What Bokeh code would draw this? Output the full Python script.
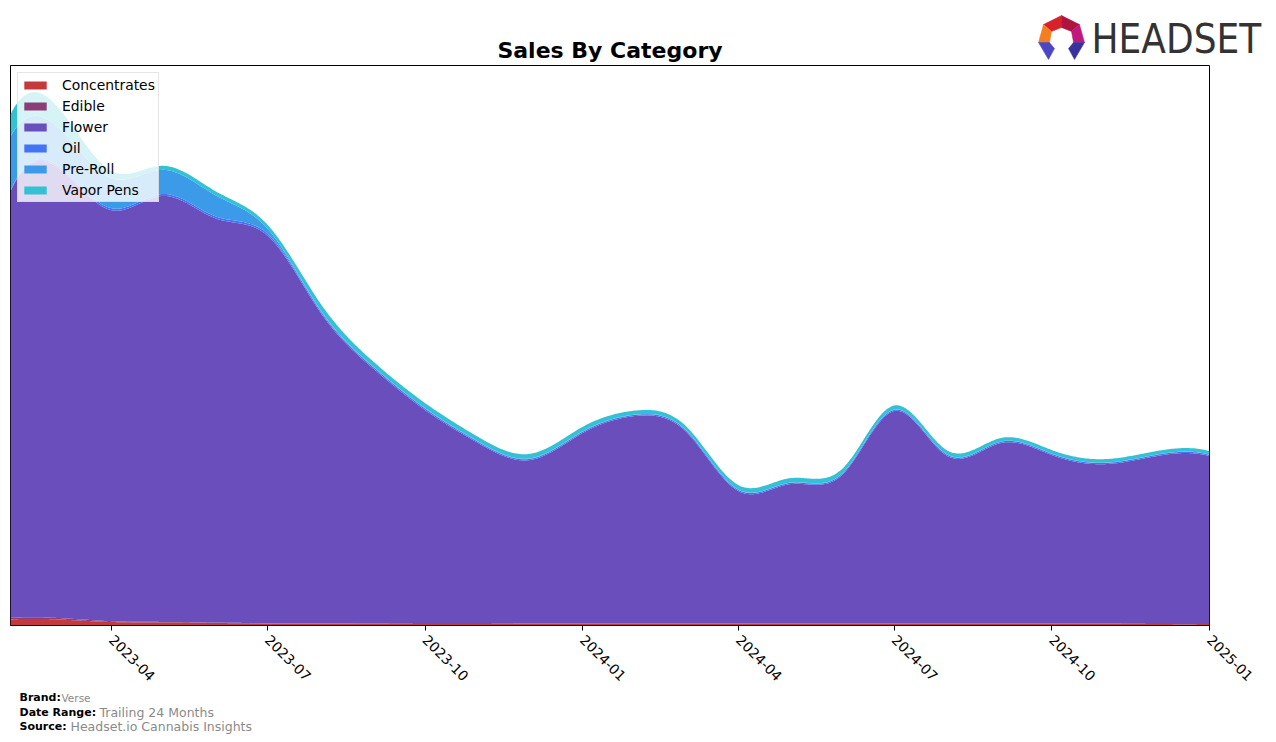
import numpy as np
from datetime import datetime, timezone
from bokeh.plotting import figure
from bokeh.layouts import column, row
from bokeh.models import Range1d, MonthsTicker, DatetimeTickFormatter
from bokeh.core.properties import value
from bokeh.embed import file_html
from bokeh.resources import INLINE

# ---------------- data (monthly sales, arbitrary units) ----------------
months = ["2023-02", "2023-03", "2023-04", "2023-05", "2023-06", "2023-07",
          "2023-08", "2023-09", "2023-10", "2023-11", "2023-12", "2024-01",
          "2024-02", "2024-03", "2024-04", "2024-05", "2024-06", "2024-07",
          "2024-08", "2024-09", "2024-10", "2024-11", "2024-12", "2025-01"]

concentrates = [6.0, 6.0, 3.5, 3.0, 2.5, 2.0, 2.0, 2.0, 1.5, 1.5, 2.0, 2.0,
                2.0, 2.0, 2.0, 2.0, 2.0, 2.0, 2.0, 2.0, 2.0, 2.0, 1.5, 1.5]
edible = [1.5, 1.5, 0.8, 0.6, 0.5, 0.3, 0.2, 0.0, 0.0, 0.0, 0.0, 0.0,
          0.0, 0.0, 0.0, 0.0, 0.0, 0.0, 0.0, 0.0, 0.0, 0.0, 0.0, 0.0]
flower = [425.5, 449.0, 410.0, 425.0, 403.0, 386.7, 310.0, 254.0, 213.5, 180.5, 163.0, 190.0,
          207.0, 192.0, 132.0, 139.0, 149.0, 212.0, 167.0, 180.0, 168.0, 159.0, 167.5, 167.5]
oil = [1.0, 2.0, 2.0, 2.0, 2.0, 2.0, 1.5, 1.5, 1.5, 1.2, 1.2, 1.2,
       1.2, 1.2, 1.2, 1.2, 1.2, 1.2, 1.2, 1.2, 1.2, 1.2, 1.2, 1.2]
pre_roll = [54.0, 38.0, 30.0, 24.0, 21.0, 5.0, 1.0, 0.5, 0.5, 0.5, 0.5, 0.5,
            0.3, 0.3, 0.3, 0.3, 0.3, 0.3, 0.3, 0.3, 0.3, 0.3, 0.3, 0.3]
vapor_pens = [22.0, 20.0, 7.0, 4.0, 4.0, 4.0, 6.5, 5.0, 5.0, 4.5, 4.5, 4.5,
              4.0, 4.0, 4.5, 4.5, 4.5, 4.0, 4.0, 3.5, 3.5, 3.5, 3.5, 3.5]

categories = ["Concentrates", "Edible", "Flower", "Oil", "Pre-Roll", "Vapor Pens"]
series = [concentrates, edible, flower, oil, pre_roll, vapor_pens]
colors = ["#c43a3a", "#8c3d77", "#6a4ebb", "#4373f7", "#3c9be8", "#33c1d3"]

title_text = "Sales By Category"
footer_labels = ["Brand:", "Date Range:", "Source:"]
footer_values = ["Verse", "Trailing 24 Months", "Headset.io Cannabis Insights"]


# ---------------- smoothing (cubic spline through monthly values) ----------------
def spline(x, y, xs):
    x = np.asarray(x, float)
    y = np.asarray(y, float)
    n = len(x)
    h = np.diff(x)
    A = np.zeros((n, n))
    r = np.zeros(n)
    for i in range(1, n - 1):
        A[i, i - 1] = h[i - 1]
        A[i, i] = 2 * (h[i - 1] + h[i])
        A[i, i + 1] = h[i]
        r[i] = 6 * ((y[i + 1] - y[i]) / h[i] - (y[i] - y[i - 1]) / h[i - 1])
    A[0, 0] = -h[1]; A[0, 1] = h[0] + h[1]; A[0, 2] = -h[0]
    A[n - 1, n - 3] = -h[n - 2]; A[n - 1, n - 2] = h[n - 3] + h[n - 2]; A[n - 1, n - 1] = -h[n - 3]
    M = np.linalg.solve(A, r)
    idx = np.clip(np.searchsorted(x, xs) - 1, 0, n - 2)
    hi = h[idx]
    a = x[idx + 1] - xs
    t = xs - x[idx]
    return (M[idx] * a ** 3 / (6 * hi) + M[idx + 1] * t ** 3 / (6 * hi)
            + (y[idx] / hi - M[idx] * hi / 6) * a + (y[idx + 1] / hi - M[idx + 1] * hi / 6) * t)


def to_ms(s):
    d = datetime.strptime(s, "%Y-%m").replace(tzinfo=timezone.utc)
    return d.timestamp() * 1000.0


xm = np.array([to_ms(m) for m in months])
xs = np.linspace(xm[0], xm[-1], 700)
smooth = [np.clip(spline(xm, s, xs), 0, None) for s in series]

W = 1276
HEAD_H = 64
FOOT_H = 54
MAIN_H = 742 - HEAD_H - FOOT_H  # 624

# ---------------- header (title + logo) ----------------
head = figure(width=W, height=HEAD_H, x_range=Range1d(0, W), y_range=Range1d(HEAD_H, 0),
              toolbar_location=None, output_backend="svg", min_border=0,
              x_axis_location=None, y_axis_location=None)
head.outline_line_color = None
head.grid.visible = False
head.text(x=[609.5], y=[50], text=[title_text], text_font=value("DejaVu Sans"),
          text_font_style="bold", text_font_size="22px", text_align="center",
          text_baseline="middle", text_color="black")
head.text(x=[1091], y=[38], text=["HEADSET"], text_font=value("'DejaVu Sans Condensed', Roboto"),
          text_font_size="40px", text_align="left", text_baseline="middle", text_color="#333333")

P = {"T": (1061, 15), "UL": (1043, 24), "UR": (1079, 24), "L": (1038, 42), "R": (1084, 42),
     "BL": (1048, 59), "BR": (1074, 59), "iT": (1061, 27), "iUL": (1051, 31), "iUR": (1071, 31),
     "iL": (1049, 42), "iR": (1073, 42), "iBL": (1054, 48), "iBR": (1068, 48)}
facets = [
    (["T", "UL", "iUL", "iT"], "#d7222c"),
    (["T", "UR", "iUR", "iT"], "#ad1540"),
    (["UL", "L", "iL", "iUL"], "#f47d20"),
    (["UR", "R", "iR", "iUR"], "#c0187c"),
    (["L", "BL", "iBL", "iL"], "#4b47c4"),
    (["R", "BR", "iBR", "iR"], "#3a319f"),
]
head.patches(xs=[[P[k][0] for k in ks] for ks, _ in facets],
             ys=[[P[k][1] for k in ks] for ks, _ in facets],
             fill_color=[c for _, c in facets], line_color=[c for _, c in facets], line_width=0.5)

# ---------------- main chart ----------------
p = figure(width=W, height=MAIN_H, x_axis_type="datetime", y_axis_location=None,
           output_backend="svg", toolbar_location=None, title=None,
           min_border_left=10, min_border_right=67, min_border_top=1, min_border_bottom=63)
p.x_range = Range1d(xm[0], xm[-1])

base = np.zeros_like(xs)
for name, sm, c in zip(categories, smooth, colors):
    top = base + sm
    p.varea(x=xs, y1=base, y2=top, fill_color=c, fill_alpha=1.0, legend_label=name)
    base = top
p.y_range = Range1d(0, base.max() * 1.05)

p.xgrid.visible = False
p.ygrid.visible = False
p.outline_line_color = "black"
p.outline_line_width = 1
p.outline_line_alpha = 1

ax = p.xaxis[0]
ax.ticker = MonthsTicker(months=[0, 3, 6, 9])
ax.formatter = DatetimeTickFormatter(months="%Y-%m", years="%Y-%m", days="%Y-%m")
ax.major_label_orientation = -np.pi / 4
ax.major_label_standoff = 7
ax.major_label_text_font = "DejaVu Sans"
ax.major_label_text_font_size = "13.9px"
ax.major_label_text_color = "black"
ax.major_tick_out = 5
ax.major_tick_in = 0
ax.minor_tick_out = 0
ax.minor_tick_in = 0
ax.axis_line_color = "black"
ax.major_tick_line_color = "black"

lg = p.legend[0]
lg.location = "top_left"
lg.margin = 7
lg.padding = 3
lg.spacing = 4
lg.label_height = 17
lg.glyph_width = 28
lg.glyph_height = 10
lg.label_standoff = 13
lg.label_text_font = "DejaVu Sans"
lg.label_text_font_size = "13.9px"
lg.label_text_color = "black"
lg.background_fill_alpha = 0.8
lg.border_line_color = "#cccccc"
lg.border_line_width = 1

# ---------------- footer ----------------
foot = figure(width=W, height=FOOT_H, x_range=Range1d(0, W), y_range=Range1d(FOOT_H, 0),
              toolbar_location=None, output_backend="svg", min_border=0,
              x_axis_location=None, y_axis_location=None)
foot.outline_line_color = None
foot.grid.visible = False
rows_y = [9, 24, 38]
value_x = [61, 99, 70]
value_sizes = ["10.5px", "12.5px", "12.5px"]
for lab, val, yy, vx, vs in zip(footer_labels, footer_values, rows_y, value_x, value_sizes):
    foot.text(x=[19], y=[yy], text=[lab], text_font=value("DejaVu Sans"), text_font_style="bold",
              text_font_size="11px", text_baseline="middle", text_align="left", text_color="black")
    foot.text(x=[vx], y=[yy], text=[val], text_font=value("DejaVu Sans"),
              text_font_size=vs, text_baseline="middle", text_align="left", text_color="#8a8a8a")

layout = column(row(head, spacing=0), p, row(foot, spacing=0), spacing=0)
open("out.html", "w").write(file_html(layout, INLINE))
